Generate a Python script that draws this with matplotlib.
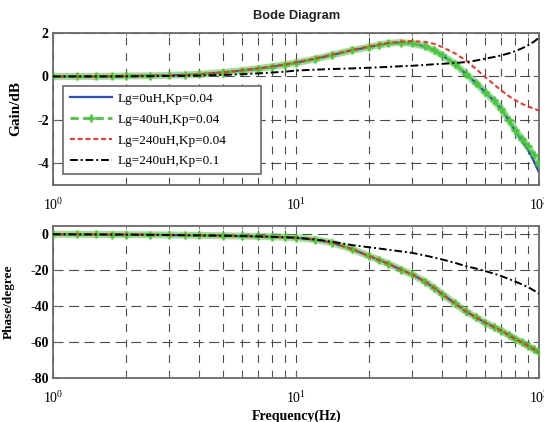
import matplotlib
matplotlib.use('Agg')
import matplotlib.pyplot as plt

plt.rcParams['font.family'] = ['Liberation Serif', 'DejaVu Serif']
plt.rcParams['mathtext.fontset'] = 'stix'
plt.rcParams['axes.unicode_minus'] = False

# frequency points (Hz)
freq = [1, 1.25, 1.5, 1.75, 2, 2.5, 3, 3.5, 4, 5, 6, 7, 8, 9, 10, 12, 14, 17, 20, 22,
        24, 27, 30, 34, 37, 40, 45, 50, 55, 60, 65, 70, 75, 80, 85, 90, 95, 100]

labels = ['Lg=0uH,Kp=0.04', 'Lg=40uH,Kp=0.04', 'Lg=240uH,Kp=0.04', 'Lg=240uH,Kp=0.1']

# gain in dB
gain_lg0 = [0.0, 0.0, 0.0, 0.01, 0.02, 0.03, 0.05, 0.07, 0.1, 0.18, 0.27, 0.36, 0.45, 0.54,
            0.63, 0.8, 0.98, 1.2, 1.35, 1.45, 1.52, 1.56, 1.52, 1.38, 1.2, 0.97, 0.58, 0.12,
            -0.3, -0.72, -1.1, -1.5, -2.02, -2.52, -2.95, -3.36, -3.88, -4.42]
gain_lg40 = [0.0, 0.0, 0.0, 0.01, 0.02, 0.03, 0.05, 0.07, 0.1, 0.18, 0.27, 0.36, 0.45, 0.54,
             0.63, 0.8, 0.98, 1.2, 1.35, 1.45, 1.52, 1.56, 1.52, 1.38, 1.2, 0.97, 0.58, 0.12,
             -0.3, -0.72, -1.1, -1.5, -2.0, -2.48, -2.88, -3.22, -3.62, -4.05]
gain_lg240 = [0.0, 0.0, 0.0, 0.01, 0.02, 0.03, 0.05, 0.07, 0.1, 0.18, 0.28, 0.37, 0.46, 0.55,
              0.65, 0.83, 1.0, 1.22, 1.38, 1.47, 1.54, 1.6, 1.63, 1.59, 1.5, 1.35, 1.07, 0.74,
              0.35, -0.03, -0.35, -0.65, -0.9, -1.1, -1.26, -1.38, -1.48, -1.57]
gain_lg240_kp01 = [0.0, 0.0, 0.0, 0.0, 0.0, 0.01, 0.02, 0.03, 0.04, 0.07, 0.1, 0.14, 0.18, 0.22,
                   0.27, 0.31, 0.34, 0.37, 0.4, 0.42, 0.44, 0.47, 0.49, 0.53, 0.56, 0.58, 0.62,
                   0.66, 0.73, 0.82, 0.89, 0.97, 1.06, 1.17, 1.29, 1.43, 1.59, 1.78]

# phase in degree
phase_kp004 = [-0.2, -0.25, -0.3, -0.35, -0.4, -0.5, -0.6, -0.7, -0.8, -1.0, -1.2, -1.4, -1.6,
               -1.85, -2.1, -3.2, -4.8, -8.4, -12.3, -14.5, -16.6, -19.8, -22.5, -26.5, -30.0,
               -33.5, -38.5, -43.0, -46.3, -49.2, -51.6, -53.8, -56.1, -58.4, -60.2, -62.0,
               -64.0, -65.8]
phase_lg0 = phase_kp004
phase_lg40 = phase_kp004
phase_lg240 = phase_kp004
phase_lg240_kp01 = [-0.2, -0.25, -0.3, -0.35, -0.4, -0.5, -0.6, -0.7, -0.8, -1.0, -1.2, -1.4,
                    -1.6, -1.85, -2.1, -3.1, -4.3, -6.2, -7.4, -8.1, -8.8, -9.7, -10.5, -12.0,
                    -13.1, -14.2, -16.0, -17.9, -19.2, -20.6, -22.0, -23.4, -25.0, -26.5, -28.0,
                    -29.5, -31.3, -33.2]

blue = '#2a4fc8'
green = '#48c83a'
red = '#ff2a20'
grid_col = '#4a4a4a'
frame_col = '#6a6a6a'

fig = plt.figure(figsize=(5.44, 4.22), dpi=100)
ax1 = fig.add_axes([53/544, 1-185/422, 486/544, 152/422])
ax2 = fig.add_axes([53/544, 1-378/422, 486/544, 152/422])


def draw_series(ax, b, g, r, k):
    ax.plot(freq, g, color=green, lw=5, alpha=0.55, solid_capstyle='round', zorder=2)
    ax.plot(freq, b, color=blue, lw=1.6, zorder=2, label=labels[0])
    ax.plot(freq, g, color=green, lw=2, ls=(0, (3, 1.5)), marker='+', ms=6, mew=1.8,
            zorder=3, label=labels[1])
    ax.plot(freq, r, color=red, lw=1.4, ls=(0, (2.5, 1.5)), zorder=4, label=labels[2])
    ax.plot(freq, k, color='black', lw=1.4, ls=(0, (4, 1.5, 1, 1.5)), zorder=4, label=labels[3])


def style_axes(ax):
    ax.set_xscale('log')
    ax.set_xlim(1, 100)
    ax.grid(True, which='both', axis='x', color=grid_col, lw=0.8, ls=(0, (7, 7)))
    ax.grid(True, which='major', axis='y', color=grid_col, lw=0.8, ls=(0, (9, 5)))
    ax.tick_params(which='both', direction='in', top=True, right=True, color=frame_col)
    ax.tick_params(which='major', length=4, labelsize=10, pad=3)
    ax.tick_params(which='minor', length=2)
    ax.tick_params(axis='x', which='major', pad=9)
    for s in ax.spines.values():
        s.set_color(frame_col)
        s.set_linewidth(1.3)
    for t in ax.get_yticklabels():
        t.set_fontweight('bold')


draw_series(ax1, gain_lg0, gain_lg40, gain_lg240, gain_lg240_kp01)
draw_series(ax2, phase_lg0, phase_lg40, phase_lg240, phase_lg240_kp01)

ax1.set_ylim(-5, 2)
ax1.set_yticks([-4, -2, 0, 2])
ax2.set_ylim(-80, 4.4)
ax2.set_yticks([-80, -60, -40, -20, 0])
style_axes(ax1)
style_axes(ax2)

ax1.set_ylabel('Gain/dB', fontsize=11, fontweight='bold')
ax1.yaxis.set_label_coords(-0.064, 0.5)
ax2.set_ylabel('Phase/degree', fontsize=9.5, fontweight='bold')
ax2.yaxis.set_label_coords(-0.078, 0.5)

leg = ax1.legend(loc='lower left', bbox_to_anchor=(0.0206, 0.072, 0.407, 0.57), mode='expand',
                 borderaxespad=0, fontsize=9.5, handlelength=3.2, handletextpad=0.45,
                 labelspacing=0.65, borderpad=0.5, numpoints=1, fancybox=False, framealpha=1)
leg.get_frame().set_edgecolor(frame_col)
leg.get_frame().set_linewidth(1.2)

fig.text(297/544, 1-16/422, 'Bode Diagram', ha='center', va='center', fontsize=9.3,
         fontweight='bold', family='Liberation Sans', color='#222222')
fig.text(297/544, 1-416/422, 'Frequency(Hz)', ha='center', va='center', fontsize=10,
         fontweight='bold')

fig.savefig('out.png', dpi=100)
